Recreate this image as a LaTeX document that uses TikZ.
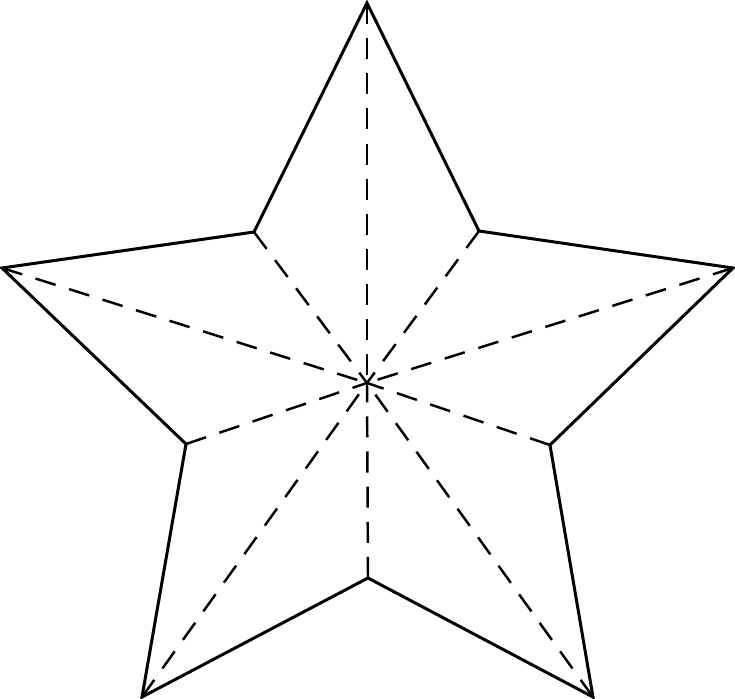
\documentclass[tikz,border=0pt]{standalone}
\usepackage{tikz}

\begin{document}
\begin{tikzpicture}[x=0.02cm,y=-0.02cm,
	outline/.style={line width=1.7pt,line join=miter},
	fold/.style={line width=1.4pt,dash pattern=on 12pt off 8pt}]
						\useasboundingbox (0,0) rectangle (735,699);
						% outer points
						\coordinate (o1) at (367,3);
						\coordinate (o2) at (733,268);
						\coordinate (o3) at (593,697);
						\coordinate (o4) at (142,697);
						\coordinate (o5) at (2,268);
						% inner points
						\coordinate (i1) at (479,231);
						\coordinate (i2) at (550,445);
						\coordinate (i3) at (368,578);
						\coordinate (i4) at (186,444);
						\coordinate (i5) at (254,232);
						\coordinate (c) at (367,383);

						\draw[outline] (o1)--(i1)--(o2)--(i2)--(o3)--(i3)--(o4)--(i4)--(o5)--(i5)--cycle;

						\foreach \p in {o1,i1,o2,i2,o3,i3,o4,i4,o5,i5}
						{
							\draw[fold] (\p)--(c);
						}
\end{tikzpicture}
\end{document}
